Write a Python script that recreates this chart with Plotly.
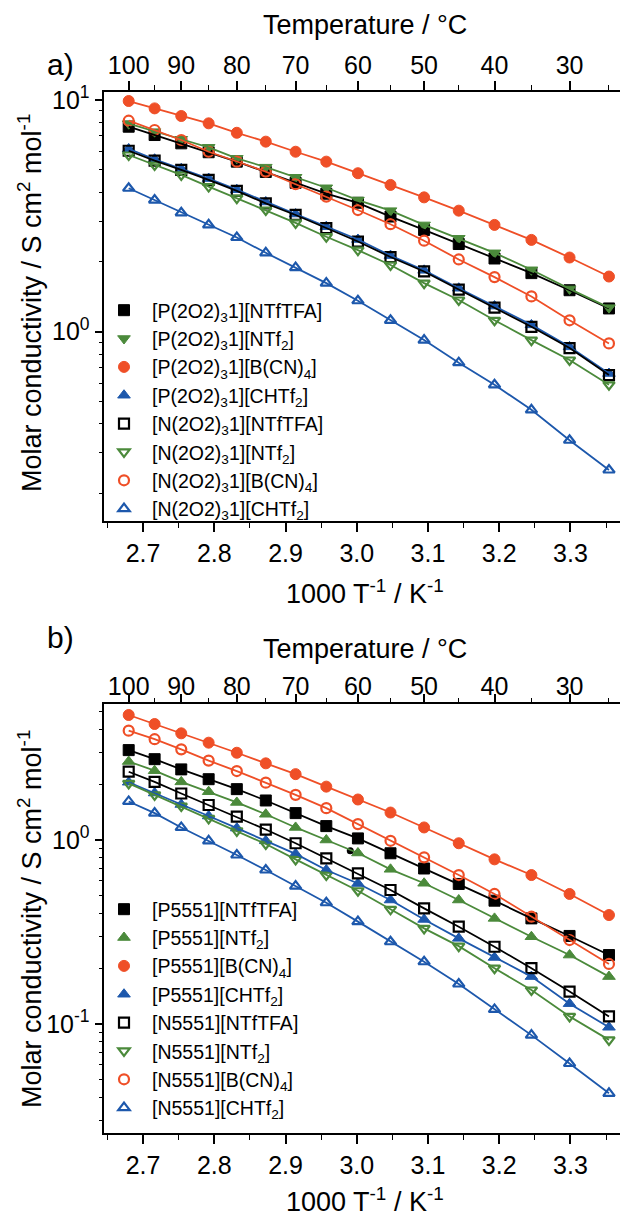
import numpy as np
import plotly.graph_objects as go

# ---------------- data ----------------
temps_C = [100, 95, 90, 85, 80, 75, 70, 65, 60, 55, 50, 45, 40, 35, 30, 25]

# panel a) [P(2O2)31]/[N(2O2)31] ionic liquids, molar conductivity / S cm2 mol-1
a_P_NTfTFA = [7.67, 7.06, 6.50, 5.95, 5.42, 4.89, 4.39, 3.94, 3.60, 3.14, 2.75, 2.39, 2.07, 1.79, 1.51, 1.26]
a_P_NTf2   = [7.90, 7.30, 6.77, 6.25, 5.60, 5.13, 4.64, 4.18, 3.70, 3.33, 2.89, 2.53, 2.19, 1.85, 1.53, 1.27]
a_P_BCN4   = [9.90, 9.20, 8.53, 7.93, 7.22, 6.61, 5.98, 5.42, 4.83, 4.30, 3.80, 3.33, 2.89, 2.49, 2.09, 1.73]
a_P_CHTf2  = [6.15, 5.55, 5.05, 4.58, 4.10, 3.63, 3.22, 2.84, 2.50, 2.13, 1.84, 1.54, 1.29, 1.07, 0.86, 0.66]
a_N_NTfTFA = [6.04, 5.47, 4.99, 4.52, 4.05, 3.58, 3.19, 2.80, 2.45, 2.10, 1.82, 1.52, 1.27, 1.05, 0.85, 0.65]
a_N_NTf2   = [5.79, 5.24, 4.75, 4.23, 3.77, 3.35, 2.95, 2.57, 2.25, 1.94, 1.62, 1.37, 1.12, 0.92, 0.755, 0.59]
a_N_BCN4   = [8.14, 7.42, 6.72, 5.98, 5.42, 4.91, 4.33, 3.83, 3.35, 2.91, 2.47, 2.05, 1.72, 1.42, 1.12, 0.89]
a_N_CHTf2  = [4.16, 3.70, 3.26, 2.89, 2.55, 2.19, 1.89, 1.62, 1.36, 1.12, 0.92, 0.735, 0.59, 0.46, 0.34, 0.253]

# panel b) [P5551]/[N5551] ionic liquids
b_P_NTfTFA = [3.08, 2.75, 2.42, 2.14, 1.89, 1.64, 1.40, 1.19, 1.02, 0.847, 0.70, 0.577, 0.468, 0.375, 0.301, 0.237]
b_P_NTf2   = [2.67, 2.38, 2.07, 1.83, 1.60, 1.38, 1.17, 1.00, 0.85, 0.693, 0.582, 0.472, 0.375, 0.298, 0.237, 0.181]
b_P_BCN4   = [4.78, 4.27, 3.80, 3.38, 2.98, 2.61, 2.28, 1.95, 1.66, 1.41, 1.17, 0.96, 0.785, 0.645, 0.509, 0.391]
b_P_CHTf2  = [2.06, 1.80, 1.56, 1.35, 1.16, 0.99, 0.84, 0.687, 0.58, 0.472, 0.370, 0.292, 0.230, 0.181, 0.129, 0.096]
b_N_NTfTFA = [2.35, 2.07, 1.79, 1.55, 1.34, 1.14, 0.96, 0.795, 0.659, 0.535, 0.425, 0.338, 0.263, 0.201, 0.150, 0.110]
b_N_NTf2   = [2.03, 1.76, 1.53, 1.31, 1.12, 0.951, 0.785, 0.645, 0.530, 0.420, 0.331, 0.265, 0.201, 0.153, 0.110, 0.082]
b_N_BCN4   = [3.93, 3.53, 3.11, 2.70, 2.37, 2.05, 1.76, 1.49, 1.22, 0.99, 0.805, 0.645, 0.509, 0.383, 0.286, 0.212]
b_N_CHTf2  = [1.62, 1.40, 1.17, 0.99, 0.829, 0.687, 0.562, 0.456, 0.360, 0.280, 0.218, 0.165, 0.120, 0.087, 0.061, 0.042]

# stray dot visible in panel b
stray_T = [61.2]
stray_y = [0.875]

# axis ticks
x_ticks = [2.7, 2.8, 2.9, 3.0, 3.1, 3.2, 3.3]
top_major_C = [100, 90, 80, 70, 60, 50, 40, 30]
top_minor_C = [95, 85, 75, 65, 55, 45, 35, 25]

# ---------------- styling ----------------
FONT = "Arial, Liberation Sans, sans-serif"
BLACK = "#000000"
GREEN = "#4B8A3B"
RED = "#EF4F27"
BLUE = "#1D58AC"

W, H = 620, 1217
def py(p):  # pixel from top -> paper fraction
    return 1 - p / H

x_of = lambda T: 1000.0 / (np.asarray(T, dtype=float) + 273.15)
xs = x_of(temps_C)
XR = [2.6458, 3.3695]

fig = go.Figure()

def add_series(y, color, symbol, name, xa_line, xa, ya, legend):
    # connecting line drawn on the (overlaying) top temperature axis, same range as bottom axis
    fig.add_trace(go.Scatter(x=xs, y=y, mode="lines", line=dict(color=color, width=1.8),
                             xaxis=xa_line, yaxis=ya, showlegend=False, hoverinfo="skip"))
    is_open = symbol.endswith("-open")
    fig.add_trace(go.Scatter(x=xs, y=y, mode="markers", name=name, xaxis=xa, yaxis=ya, legend=legend,
                             marker=dict(symbol=symbol, size=11 if not is_open else 10, color=color,
                                         line=dict(color=color, width=2.2 if is_open else 1))))

sa = "[P(2O2)<sub>3</sub>1]"
sn = "[N(2O2)<sub>3</sub>1]"
panel_a = [
    (a_P_NTfTFA, BLACK, "square", sa + "[NTfTFA]"),
    (a_P_NTf2, GREEN, "triangle-down", sa + "[NTf<sub>2</sub>]"),
    (a_P_BCN4, RED, "circle", sa + "[B(CN)<sub>4</sub>]"),
    (a_P_CHTf2, BLUE, "triangle-up", sa + "[CHTf<sub>2</sub>]"),
    (a_N_NTfTFA, BLACK, "square-open", sn + "[NTfTFA]"),
    (a_N_NTf2, GREEN, "triangle-down-open", sn + "[NTf<sub>2</sub>]"),
    (a_N_BCN4, RED, "circle-open", sn + "[B(CN)<sub>4</sub>]"),
    (a_N_CHTf2, BLUE, "triangle-up-open", sn + "[CHTf<sub>2</sub>]"),
]
panel_b = [
    (b_P_NTfTFA, BLACK, "square", "[P5551][NTfTFA]"),
    (b_P_NTf2, GREEN, "triangle-up", "[P5551][NTf<sub>2</sub>]"),
    (b_P_BCN4, RED, "circle", "[P5551][B(CN)<sub>4</sub>]"),
    (b_P_CHTf2, BLUE, "triangle-up", "[P5551][CHTf<sub>2</sub>]"),
    (b_N_NTfTFA, BLACK, "square-open", "[N5551][NTfTFA]"),
    (b_N_NTf2, GREEN, "triangle-down-open", "[N5551][NTf<sub>2</sub>]"),
    (b_N_BCN4, RED, "circle-open", "[N5551][B(CN)<sub>4</sub>]"),
    (b_N_CHTf2, BLUE, "triangle-up-open", "[N5551][CHTf<sub>2</sub>]"),
]
for y, c, s, n in panel_a:
    add_series(y, c, s, n, "x2", "x", "y", "legend")
for y, c, s, n in panel_b:
    add_series(y, c, s, n, "x4", "x3", "y2", "legend2")

fig.add_trace(go.Scatter(x=x_of(stray_T), y=stray_y, mode="markers", xaxis="x3", yaxis="y2",
                         marker=dict(color=BLACK, size=7), showlegend=False, hoverinfo="skip"))

# ---------------- axes ----------------
xdom = [104.4 / W, 1.0]
common_x = dict(domain=xdom, range=XR, showline=True, linecolor=BLACK, linewidth=1.6,
                ticks="outside", ticklen=9, tickwidth=1.6, tickcolor=BLACK,
                showgrid=False, zeroline=False, automargin=False,
                tickfont=dict(family=FONT, size=25, color=BLACK))
bottom_x = dict(common_x, tickvals=x_ticks, ticktext=[f"{v:.1f}" for v in x_ticks],
                minor=dict(tickvals=[v + 0.05 for v in x_ticks[:-1]] + [2.65, 3.35],
                           ticks="outside", ticklen=5, tickwidth=1.4, tickcolor=BLACK))
top_x = dict(common_x, side="top", tickvals=list(x_of(top_major_C)),
             ticktext=[str(t) for t in top_major_C],
             minor=dict(tickvals=list(x_of(top_minor_C)), ticks="outside", ticklen=5,
                        tickwidth=1.4, tickcolor=BLACK))

def log_y(domain, rng, majors, labels):
    lo, hi = int(np.floor(rng[0])), int(np.ceil(rng[1]))
    minors = [m * 10.0 ** d for d in range(lo, hi) for m in range(2, 10)]
    return dict(domain=domain, type="log", range=rng, showline=True, linecolor=BLACK, linewidth=1.6,
                ticks="outside", ticklen=8, tickwidth=1.6, tickcolor=BLACK, showgrid=False,
                zeroline=False, automargin=False, tickvals=majors, ticktext=labels,
                tickfont=dict(family=FONT, size=25, color=BLACK),
                minor=dict(tickvals=minors, ticks="outside", ticklen=4, tickwidth=1.4, tickcolor=BLACK))

LEGEND_FONT = dict(family=FONT, size=19.5, color=BLACK)
fig.update_layout(
    width=W, height=H, margin=dict(l=0, r=0, t=0, b=0),
    paper_bgcolor="white", plot_bgcolor="white",
    font=dict(family=FONT, color=BLACK),
    xaxis=dict(bottom_x, anchor="y"),
    xaxis2=dict(top_x, anchor="y", overlaying="x", ticklabelstandoff=-3),
    yaxis=log_y([py(521), py(92)], [-0.817, 1.0345], [1, 10], ["10<sup>0</sup>", "10<sup>1</sup>"]),
    xaxis3=dict(bottom_x, anchor="y2"),
    xaxis4=dict(top_x, anchor="y2", overlaying="x3", ticklabelstandoff=-11),
    yaxis2=log_y([py(1133.3), py(704.3)], [-1.594, 0.7375], [0.1, 1], ["10<sup>-1</sup>", "10<sup>0</sup>"]),
    legend=dict(x=96 / W, y=py(291), xanchor="left", yanchor="top", bgcolor="rgba(0,0,0,0)",
                font=LEGEND_FONT, itemwidth=46, tracegroupgap=0),
    legend2=dict(x=96 / W, y=py(890), xanchor="left", yanchor="top", bgcolor="rgba(0,0,0,0)",
                 font=LEGEND_FONT, itemwidth=46, tracegroupgap=0),
    showlegend=True,
)

def text(x, y, s, size, **kw):
    fig.add_annotation(x=x / W, y=py(y), xref="paper", yref="paper", text=s, showarrow=False,
                       font=dict(family=FONT, size=size, color=BLACK), xanchor="center",
                       yanchor="middle", **kw)

text(365, 25, "Temperature / °C", 27)
text(60, 65, "a)", 30)
text(365, 592, "1000 T<sup>-1</sup> / K<sup>-1</sup>", 27)
text(60, 637, "b)", 30)
text(365, 649, "Temperature / °C", 27)
text(365, 1200, "1000 T<sup>-1</sup> / K<sup>-1</sup>", 27)
text(30, 303, "Molar conductivity / S cm<sup>2</sup> mol<sup>-1</sup>", 27, textangle=-90)
text(30, 919, "Molar conductivity / S cm<sup>2</sup> mol<sup>-1</sup>", 27, textangle=-90)

fig.write_html("out.html", config={"displayModeBar": False},
               post_script="document.body.style.margin='0px';document.documentElement.style.overflow='hidden';")
